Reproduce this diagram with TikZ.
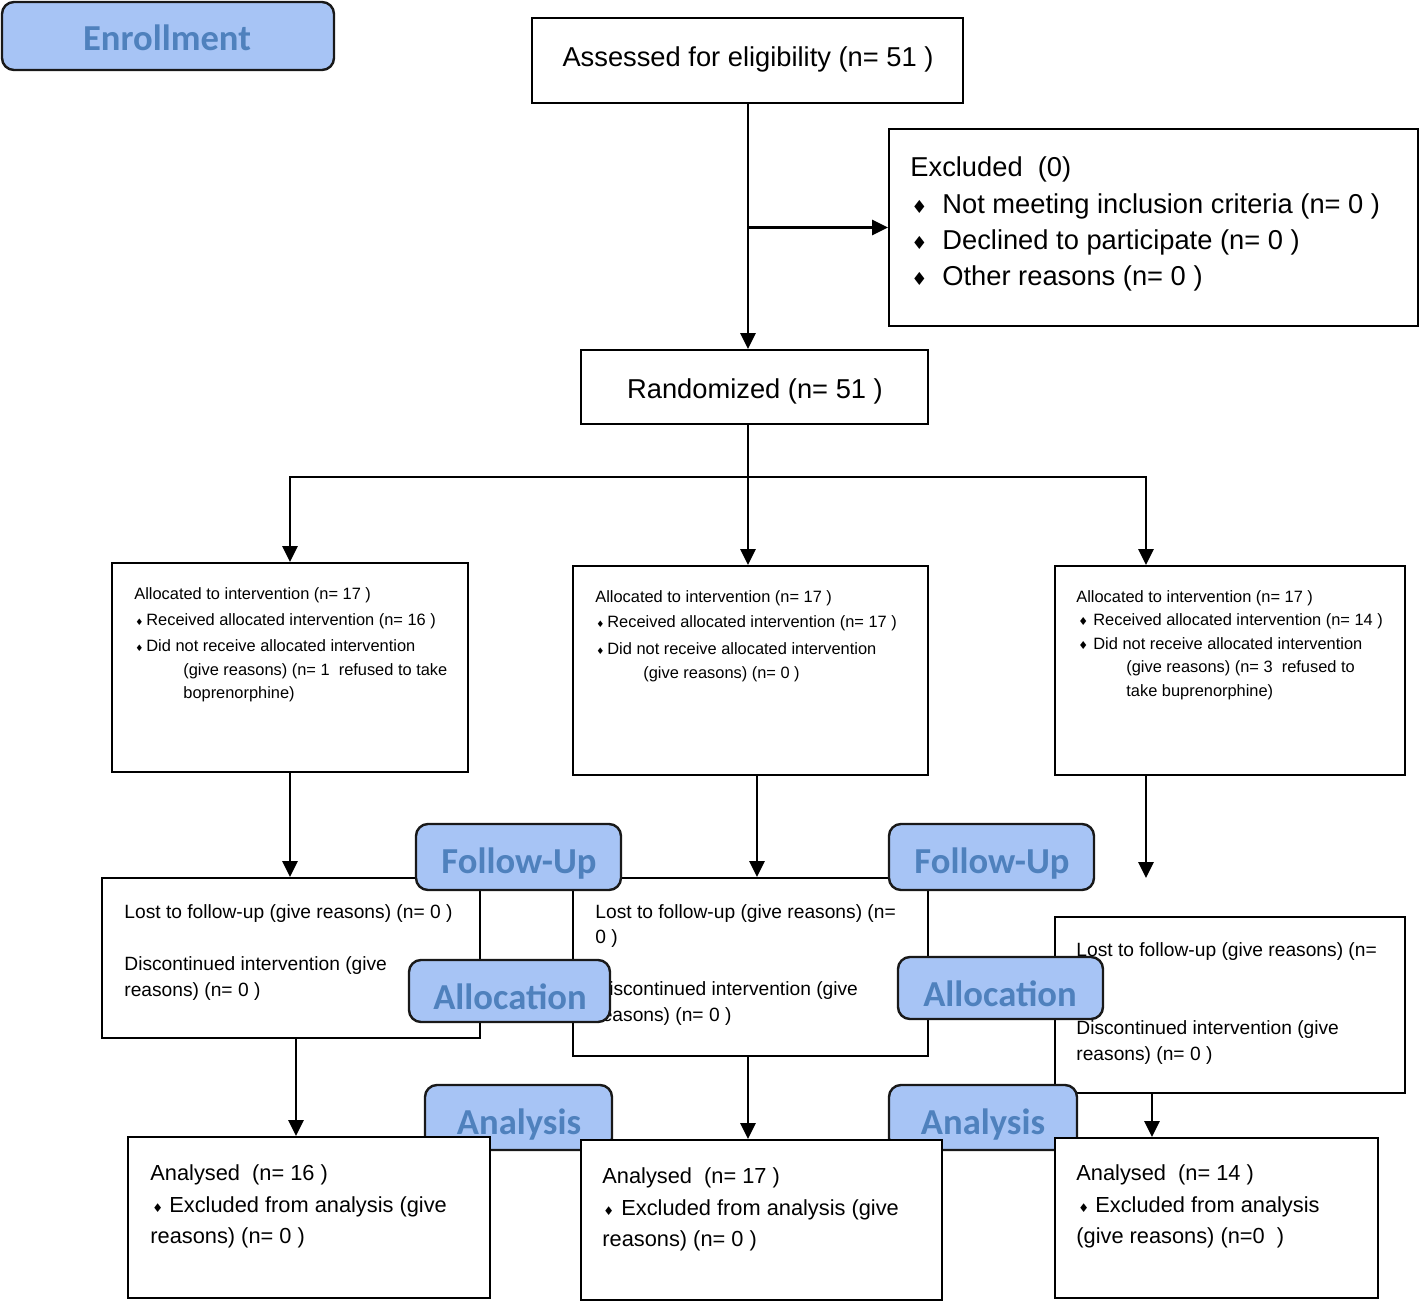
\documentclass[tikz,border=0pt]{standalone}
\usepackage{fontspec}
\setmainfont{Liberation Sans}
\newfontfamily\labfont{Carlito}
\newfontfamily\djv{DejaVu Sans}
\usetikzlibrary{arrows.meta,fit}
\definecolor{labfill}{RGB}{167,196,245}
\definecolor{labtext}{RGB}{79,129,189}
\newcommand\dia[1]{{\djv\fontsize{#1}{#1}\selectfont ♦}}
\begin{document}
\begin{tikzpicture}[x=0.5pt,y=-0.5pt,
  box/.style={draw, line width=1pt, fill=white, inner sep=0pt},
  lbl/.style={draw=black!90, line width=1.2pt, fill=labfill, rounded corners=6pt, inner sep=0pt},
  lbltxt/.style={anchor=base, inner sep=0pt, font=\labfont\bfseries\fontsize{18.3}{20}\selectfont, text=labtext},
  ctr/.style={anchor=base, inner sep=0pt, font=\fontsize{13.65}{16}\selectfont},
  big/.style={anchor=base west, inner sep=0pt, font=\fontsize{13.65}{16}\selectfont},
  sm/.style={anchor=base west, inner sep=0pt, font=\fontsize{8.2}{10}\selectfont},
  fu/.style={anchor=base west, inner sep=0pt, font=\fontsize{9.6}{11}\selectfont},
  an/.style={anchor=base west, inner sep=0pt, font=\fontsize{10.9}{12}\selectfont},
  ln/.style={line width=1.4pt},
  arr/.style={line width=1.4pt, -{Triangle[length=8pt,width=7.5pt]}}]
\fill[white] (0,0) rectangle (1420,1302);
\useasboundingbox (0,0) rectangle (1420,1302);

% top part
\node[lbl, fit={(2,2) (334,70)}] (enr) {};
\node[lbltxt] (enrt) at (167,50) {Enrollment};
\node[box, fit={(532,18) (963,103)}] (assess) {};
\node[ctr] (assesst) at (748,66) {Assessed for eligibility (n= 51 )};
\node[box, fit={(889,129) (1418,326)}] (excl) {};
\node[big] (ex1) at (910,176) {Excluded\ \ (0)};
\node[big] (ex2) at (911,213) {\makebox[15.5pt][l]{\dia{9}}Not meeting inclusion criteria (n= 0 )};
\node[big] (ex3) at (911,249) {\makebox[15.5pt][l]{\dia{9}}Declined to participate (n= 0 )};
\node[big] (ex4) at (911,285) {\makebox[15.5pt][l]{\dia{9}}Other reasons (n= 0 )};
\node[box, fit={(581,350) (928,424)}] (rand) {};
\node[ctr] (randt) at (755,398) {Randomized (n= 51 )};

% allocation boxes
\node[box, fit={(112,563) (468,772)}] (allocL) {};
\node[sm] (aL1) at (134,599) {Allocated to intervention (n= 17 )};
\node[sm] (aL2) at (135,625) {\makebox[5.5pt][l]{\dia{4.5}}Received allocated intervention (n= 16 )};
\node[sm] (aL3) at (135,651) {\makebox[5.5pt][l]{\dia{4.5}}Did not receive allocated intervention};
\node[sm] (aL4) at (183,675) {(give reasons) (n= 1\ \ refused to take};
\node[sm] (aL5) at (183,698) {boprenorphine)};

\node[box, fit={(573,566) (928,775)}] (allocM) {};
\node[sm] (aM1) at (595,602) {Allocated to intervention (n= 17 )};
\node[sm] (aM2) at (596,627) {\makebox[5.5pt][l]{\dia{4.5}}Received allocated intervention (n= 17 )};
\node[sm] (aM3) at (596,654) {\makebox[5.5pt][l]{\dia{4.5}}Did not receive allocated intervention};
\node[sm] (aM4) at (643,678) {(give reasons) (n= 0 )};

\node[box, fit={(1055,566) (1405,775)}] (allocR) {};
\node[sm] (aR1) at (1076,602) {Allocated to intervention (n= 17 )};
\node[sm] (aR2) at (1078,625) {\makebox[7.5pt][l]{\dia{5.5}}Received allocated intervention (n= 14 )};
\node[sm] (aR3) at (1078,649) {\makebox[7.5pt][l]{\dia{5.5}}Did not receive allocated intervention};
\node[sm] (aR4) at (1126,672) {(give reasons) (n= 3\ \ refused to};
\node[sm] (aR5) at (1126,696) {take buprenorphine)};

% follow-up boxes
\node[box, fit={(102,878) (480,1038)}] (fuL) {};
\node[fu] (fL1) at (124,918) {Lost to follow-up (give reasons) (n= 0 )};
\node[fu] (fL2) at (124,970) {Discontinued intervention (give};
\node[fu] (fL3) at (124,996) {reasons) (n= 0 )};

\node[box, fit={(573,878) (928,1056)}] (fuM) {};
\node[fu] (fM1) at (595,918) {Lost to follow-up (give reasons) (n=};
\node[fu] (fM2) at (595,943) {0 )};
\node[fu] (fM3) at (595,995) {Discontinued intervention (give};
\node[fu] (fM4) at (595,1021) {reasons) (n= 0 )};

\node[box, fit={(1055,917) (1405,1093)}] (fuR) {};
\node[fu] (fR1) at (1076,956) {Lost to follow-up (give reasons) (n=};
\node[fu] (fR2) at (1076,1034) {Discontinued intervention (give};
\node[fu] (fR3) at (1076,1060) {reasons) (n= 0 )};

% stage labels
\node[lbl, fit={(416,824) (621,890)}] (fuLab1) {};
\node[lbltxt] (fuLab1t) at (519,873) {Follow-Up};
\node[lbl, fit={(889,824) (1094,890)}] (fuLab2) {};
\node[lbltxt] (fuLab2t) at (992,873) {Follow-Up};
\node[lbl, fit={(409,960) (610,1022)}] (alLab1) {};
\node[lbltxt] (alLab1t) at (510,1009) {Allocation};
\node[lbl, fit={(898,957) (1103,1019)}] (alLab2) {};
\node[lbltxt] (alLab2t) at (1000,1006) {Allocation};
\node[lbl, fit={(425,1085) (612,1150)}] (anLab1) {};
\node[lbltxt] (anLab1t) at (519,1134) {Analysis};
\node[lbl, fit={(889,1085) (1077,1150)}] (anLab2) {};
\node[lbltxt] (anLab2t) at (983,1134) {Analysis};

% analysis boxes
\node[box, fit={(128,1137) (490,1298)}] (anL) {};
\node[an] (nL1) at (150,1180) {Analysed\ \ (n= 16 )};
\node[an] (nL2) at (152,1212) {\makebox[8.5pt][l]{\dia{6}}Excluded from analysis (give};
\node[an] (nL3) at (150,1243) {reasons) (n= 0 )};

\node[box, fit={(581,1140) (942,1300)}] (anM) {};
\node[an] (nM1) at (602,1183) {Analysed\ \ (n= 17 )};
\node[an] (nM2) at (603,1215) {\makebox[9pt][l]{\dia{6}}Excluded from analysis (give};
\node[an] (nM3) at (602,1246) {reasons) (n= 0 )};

\node[box, fit={(1055,1138) (1378,1298)}] (anR) {};
\node[an] (nR1) at (1076,1180) {Analysed\ \ (n= 14 )};
\node[an] (nR2) at (1078,1212) {\makebox[8.5pt][l]{\dia{6}}Excluded from analysis};
\node[an] (nR3) at (1076,1243) {(give reasons) (n=0\ \ )};

% connectors
\coordinate (split) at (748,477);
\coordinate (rx) at (1146,0);
\coordinate (mx) at (757,0);
\coordinate (rend) at (1146,878);
\coordinate (lx) at (296,0);
\coordinate (cx) at (748,0);
\coordinate (qx) at (1152,0);
\draw[arr] (assess.south -| split) -- (split |- rand.north);
\draw[arr] (split |- excl.west) -- (excl.west);
\draw[ln] (split |- rand.south) -- (split);
\draw[arr] (split) -| (allocL.north);
\draw[arr] (split) -- (split |- allocM.north);
\draw[arr] (split) -| (rx |- allocR.north);
\draw[arr] (allocL.south) -- (allocL.south |- fuL.north);
\draw[arr] (mx |- allocM.south) -- (mx |- fuM.north);
\draw[arr] (rx |- allocR.south) -- (rend);
\draw[arr] (lx |- fuL.south) -- (lx |- anL.north);
\draw[arr] (cx |- fuM.south) -- (cx |- anM.north);
\draw[arr] (qx |- fuR.south) -- (qx |- anR.north);
\end{tikzpicture}
\end{document}
